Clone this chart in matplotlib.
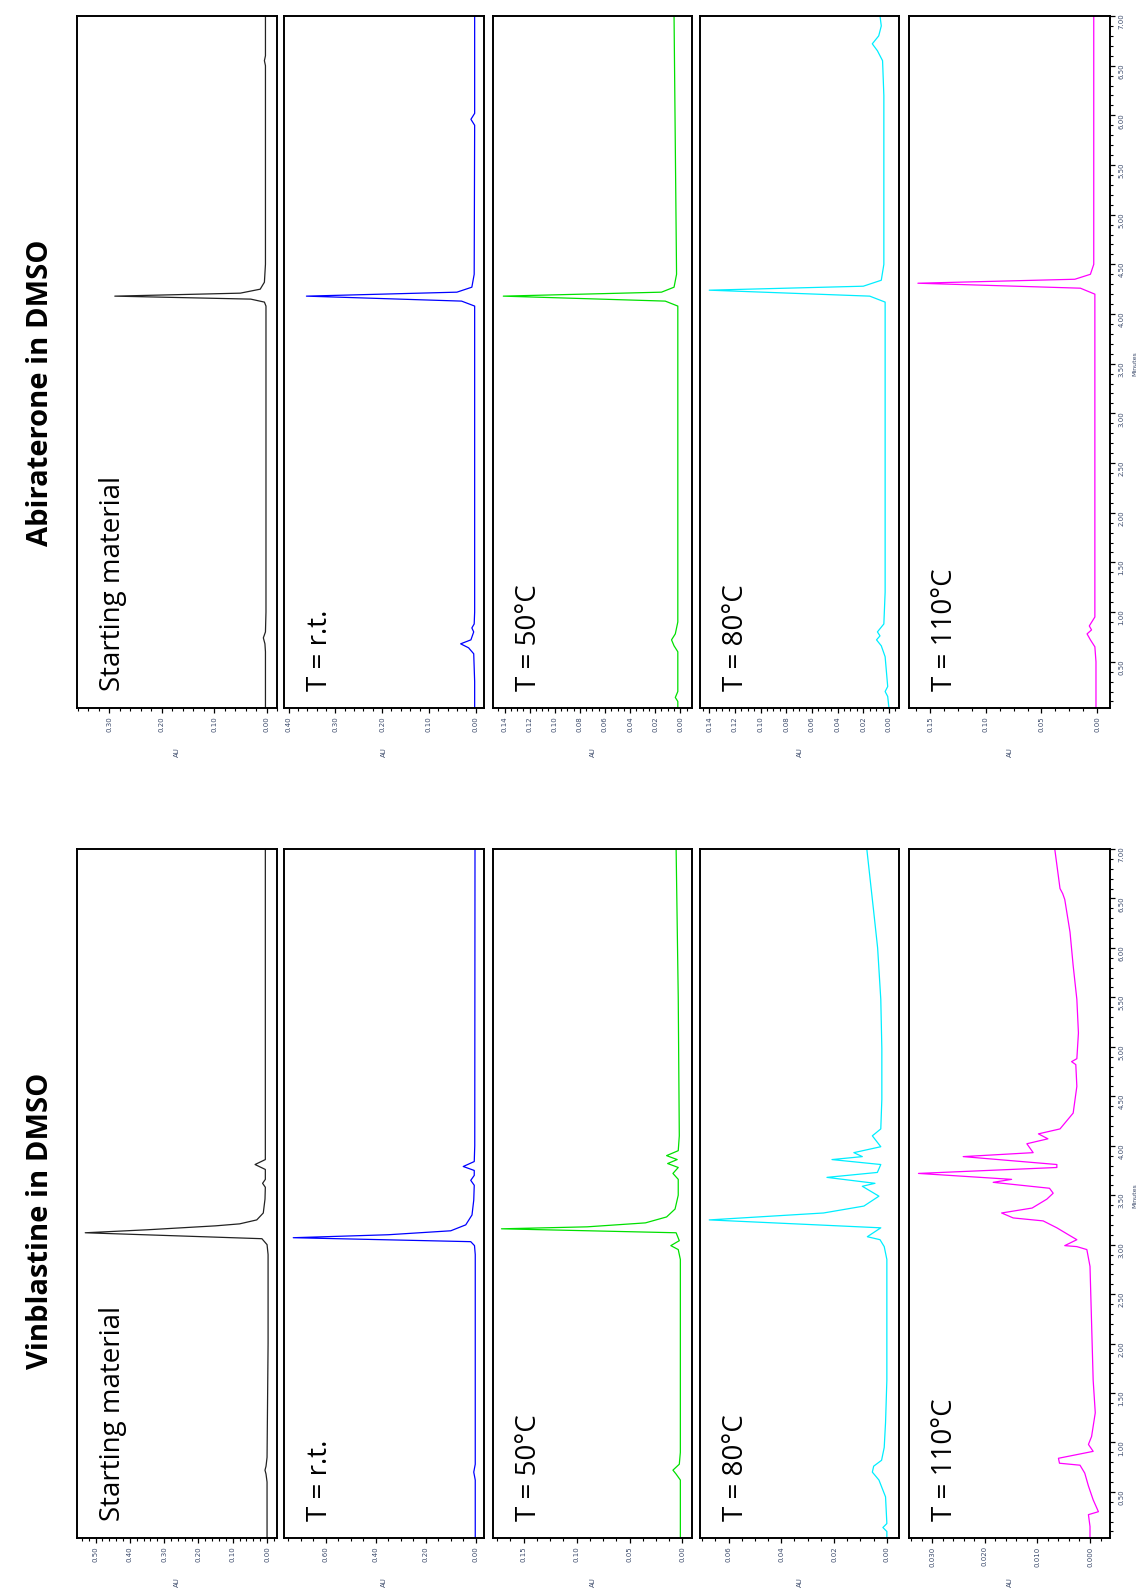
import matplotlib
matplotlib.use("Agg")
import matplotlib.pyplot as plt
from matplotlib.ticker import MultipleLocator

# ---- traces: retention time (min) / absorbance (AU) ----
# Vinblastine in DMSO
vin_sm_t = [0.03, 0.60, 0.68, 0.72, 0.76, 0.85, 2.00, 2.90, 3.00, 3.06, 3.12, 3.15, 3.19, 3.21,
            3.25, 3.32, 3.46, 3.58, 3.62, 3.66, 3.76, 3.81, 3.86, 4.00, 5.00, 7.00]
vin_sm_au = [0.000, 0.000, 0.003, 0.006, 0.003, 0.000, -0.003, -0.003, 0.000, 0.015, 0.53, 0.35,
             0.15, 0.08, 0.03, 0.011, 0.006, 0.005, 0.013, 0.005, 0.005, 0.035, 0.005, 0.005,
             0.005, 0.005]

vin_rt_t = [0.03, 0.62, 0.70, 0.78, 2.90, 2.99, 3.03, 3.07, 3.10, 3.14, 3.20, 3.30, 3.45, 3.60,
            3.65, 3.70, 3.75, 3.79, 3.84, 4.00, 7.00]
vin_rt_au = [0.002, 0.002, 0.008, 0.002, 0.002, 0.005, 0.02, 0.73, 0.35, 0.10, 0.04, 0.015,
             0.008, 0.006, 0.02, 0.006, 0.006, 0.05, 0.006, 0.004, 0.003]

vin_50_t = [0.03, 0.62, 0.68, 0.72, 0.78, 0.90, 2.85, 2.95, 2.99, 3.04, 3.12, 3.16, 3.18, 3.22,
            3.28, 3.36, 3.50, 3.66, 3.72, 3.78, 3.82, 3.86, 3.90, 3.95, 4.10, 5.50, 7.00]
vin_50_au = [0.002, 0.002, 0.006, 0.009, 0.003, 0.002, 0.002, 0.004, 0.011, 0.003, 0.006, 0.171,
             0.09, 0.035, 0.015, 0.007, 0.004, 0.004, 0.009, 0.004, 0.014, 0.005, 0.015, 0.004,
             0.003, 0.004, 0.006]

vin_80_t = [0.03, 0.10, 0.14, 0.18, 0.45, 0.62, 0.70, 0.76, 0.82, 0.95, 1.20, 1.63, 2.85, 2.98,
            3.05, 3.08, 3.17, 3.25, 3.32, 3.39, 3.49, 3.59, 3.62, 3.68, 3.73, 3.81, 3.86, 3.89,
            3.93, 3.99, 4.10, 4.17, 4.47, 4.98, 5.48, 6.00, 6.37, 7.00]
vin_80_au = [0.000, 0.000, 0.0015, 0.000, 0.0005, 0.003, 0.0055, 0.005, 0.002, 0.001, 0.0005,
             0.000, 0.000, 0.001, 0.0026, 0.0074, 0.0023, 0.0673, 0.024, 0.0087, 0.003, 0.0093,
             0.0045, 0.0227, 0.0036, 0.0023, 0.0208, 0.0093, 0.0125, 0.0023, 0.0055, 0.0023,
             0.0019, 0.0019, 0.0023, 0.0035, 0.005, 0.0076]

vin_110_t = [0.03, 0.15, 0.27, 0.30, 0.42, 0.56, 0.69, 0.77, 0.79, 0.84, 0.91, 0.98, 1.06, 1.30,
             1.63, 2.78, 2.95, 2.98, 2.99, 3.05, 3.10, 3.17, 3.24, 3.27, 3.32, 3.37, 3.46, 3.52,
             3.57, 3.63, 3.66, 3.72, 3.78, 3.81, 3.89, 3.93, 4.02, 4.07, 4.12, 4.17, 4.33, 4.60,
             4.82, 4.85, 4.88, 5.14, 5.48, 5.82, 6.16, 6.49, 6.55, 6.60, 7.00]
vin_110_au = [0.000, 0.000, 0.0003, -0.0016, -0.0006, 0.0003, 0.0010, 0.0019, 0.0058, 0.0060,
              -0.0006, 0.0003, -0.0003, -0.0010, -0.0006, 0.0000, 0.0006, 0.0025, 0.0048, 0.0025,
              0.0041, 0.0063, 0.0089, 0.0146, 0.0168, 0.0110, 0.0082, 0.0070, 0.0077, 0.0184,
              0.0149, 0.0326, 0.0063, 0.0063, 0.0241, 0.0108, 0.0120, 0.0080, 0.0098, 0.0057,
              0.0032, 0.0025, 0.0027, 0.0035, 0.0025, 0.0022, 0.0025, 0.0032, 0.0038, 0.0048,
              0.0052, 0.0057, 0.0067]

# Abiraterone in DMSO
abi_sm_t = [0.03, 0.60, 0.68, 0.74, 0.80, 1.00, 4.08, 4.12, 4.15, 4.18, 4.21, 4.25, 4.32, 4.50,
            6.50, 6.55, 6.60, 7.00]
abi_sm_au = [0.002, 0.002, 0.003, 0.006, 0.002, 0.001, 0.001, 0.004, 0.03, 0.289, 0.05, 0.012,
             0.004, 0.002, 0.002, 0.004, 0.002, 0.002]

abi_rt_t = [0.03, 0.30, 0.58, 0.64, 0.68, 0.72, 0.80, 0.84, 0.88, 1.00, 4.08, 4.13, 4.18, 4.22,
            4.27, 4.40, 5.90, 5.96, 6.02, 7.00]
abi_rt_au = [0.002, 0.002, 0.004, 0.015, 0.032, 0.010, 0.004, 0.008, 0.003, 0.002, 0.002, 0.03,
             0.362, 0.04, 0.008, 0.003, 0.002, 0.010, 0.002, 0.002]

abi_50_t = [0.03, 0.10, 0.14, 0.20, 0.60, 0.66, 0.72, 0.78, 0.90, 4.08, 4.13, 4.18, 4.22, 4.27,
            4.40, 7.00]
abi_50_au = [0.002, 0.002, 0.004, 0.002, 0.002, 0.005, 0.007, 0.004, 0.002, 0.002, 0.012, 0.141,
             0.015, 0.005, 0.003, 0.005]

abi_80_t = [0.03, 0.15, 0.20, 0.25, 0.55, 0.66, 0.72, 0.76, 0.80, 0.88, 1.20, 4.12, 4.18, 4.24,
            4.28, 4.34, 4.50, 6.20, 6.55, 6.65, 6.72, 6.80, 6.90, 7.00]
abi_80_au = [0.000, 0.001, 0.003, 0.001, 0.003, 0.006, 0.0097, 0.007, 0.009, 0.004, 0.003, 0.003,
             0.015, 0.140, 0.02, 0.006, 0.004, 0.004, 0.005, 0.009, 0.013, 0.008, 0.006, 0.007]

abi_110_t = [0.03, 0.50, 0.65, 0.72, 0.78, 0.82, 0.86, 0.95, 4.20, 4.26, 4.31, 4.35, 4.40, 4.50,
             7.00]
abi_110_au = [0.001, 0.001, 0.002, 0.006, 0.009, 0.005, 0.007, 0.002, 0.002, 0.015, 0.161, 0.02,
              0.006, 0.003, 0.003]

panel_labels = ["Starting material", "T = r.t.", "T = 50°C", "T = 80°C", "T = 110°C"]
titles = ["Vinblastine in DMSO", "Abiraterone in DMSO"]

# AU axis ticks per panel
vin_ticks = [[0.0, 0.1, 0.2, 0.3, 0.4, 0.5], [0.0, 0.2, 0.4, 0.6], [0.0, 0.05, 0.10, 0.15],
             [0.0, 0.02, 0.04, 0.06], [0.0, 0.01, 0.02, 0.03]]
vin_fmt = ["%.2f", "%.2f", "%.2f", "%.2f", "%.3f"]
vin_minor = [0.02, 0.05, 0.0125, 0.005, 0.002]
vin_xlim = [(0.554, -0.029), (0.767, -0.033), (0.179, -0.009), (0.0708, -0.0046), (0.0344, -0.0038)]

abi_ticks = [[0.0, 0.1, 0.2, 0.3], [0.0, 0.1, 0.2, 0.3, 0.4],
             [0.0, 0.02, 0.04, 0.06, 0.08, 0.10, 0.12, 0.14],
             [0.0, 0.02, 0.04, 0.06, 0.08, 0.10, 0.12, 0.14], [0.0, 0.05, 0.10, 0.15]]
abi_fmt = ["%.2f"] * 5
abi_minor = [0.02, 0.02, 0.005, 0.005, 0.0125]
abi_xlim = [(0.361, -0.020), (0.410, -0.018), (0.1492, -0.0093), (0.1472, -0.0078), (0.169, -0.0116)]

min_ticks = [0.50, 1.00, 1.50, 2.00, 2.50, 3.00, 3.50, 4.00, 4.50, 5.00, 5.50, 6.00, 6.50, 7.00]

colors = ["#222222", "#0000ff", "#00e000", "#00eeff", "#ff00ff"]

# ---- layout (pixels of the 1140 x 1589 canvas) ----
W, H = 1140, 1589
panel_x = [(77, 277), (284, 484), (493, 692), (700, 899), (909, 1110)]
T0, T1 = 0.034, 7.0
tick_col = "#3b4a6b"

fig = plt.figure(figsize=(W / 100, H / 100), dpi=100)

columns = [
    dict(y=(849, 1538), title_xy=(40.5, 1221),
         traces=[(vin_sm_t, vin_sm_au), (vin_rt_t, vin_rt_au), (vin_50_t, vin_50_au),
                 (vin_80_t, vin_80_au), (vin_110_t, vin_110_au)],
         ticks=vin_ticks, fmt=vin_fmt, minor=vin_minor, xlim=vin_xlim),
    dict(y=(16, 708), title_xy=(40.5, 393),
         traces=[(abi_sm_t, abi_sm_au), (abi_rt_t, abi_rt_au), (abi_50_t, abi_50_au),
                 (abi_80_t, abi_80_au), (abi_110_t, abi_110_au)],
         ticks=abi_ticks, fmt=abi_fmt, minor=abi_minor, xlim=abi_xlim),
]

for ci, col in enumerate(columns):
    y0, y1 = col["y"]
    fig.text(col["title_xy"][0] / W, 1 - col["title_xy"][1] / H, titles[ci], rotation=90,
             ha="center", va="center", fontsize=21, fontweight="bold", family="Open Sans")
    for i in range(5):
        x0, x1 = panel_x[i]
        ax = fig.add_axes([x0 / W, 1 - y1 / H, (x1 - x0) / W, (y1 - y0) / H])
        t, au = col["traces"][i]
        ax.plot(au, t, color=colors[i], lw=0.9)
        ax.set_xlim(col["xlim"][i])
        ax.set_ylim(T0, T1)
        for s in ax.spines.values():
            s.set_linewidth(1.4)
        ax.set_xticks(col["ticks"][i])
        ax.set_xticklabels([col["fmt"][i] % v for v in col["ticks"][i]])
        ax.xaxis.set_minor_locator(MultipleLocator(col["minor"][i]))
        ax.tick_params(axis="x", which="major", direction="out", length=3.5, width=0.9,
                       labelsize=5, labelrotation=90, pad=2.5, labelcolor=tick_col)
        ax.tick_params(axis="x", which="minor", direction="out", length=2.2, width=0.8)
        ax.text(0.5, -0.064, "AU", transform=ax.transAxes, rotation=90, ha="center",
                va="center", fontsize=5, color=tick_col)
        ax.text(0.215, 0.024, panel_labels[i], transform=ax.transAxes, rotation=90,
                rotation_mode="anchor", ha="left", va="baseline", fontsize=20,
                family="Open Sans")
        if i < 4:
            ax.set_yticks([])
        else:
            ax.yaxis.tick_right()
            ax.set_yticks(min_ticks)
            ax.set_yticklabels(["%.2f" % v for v in min_ticks])
            ax.yaxis.set_minor_locator(MultipleLocator(0.1))
            ax.tick_params(axis="y", which="major", direction="out", length=3.5, width=0.9,
                           labelsize=5, labelrotation=90, pad=2.5, labelcolor=tick_col)
            ax.tick_params(axis="y", which="minor", direction="out", length=2.2, width=0.8)
            ax.text(1.125, (3.5 - T0) / (T1 - T0), "Minutes", transform=ax.transAxes,
                    rotation=90, ha="center", va="center", fontsize=4.5, color=tick_col)

fig.savefig("out.png", dpi=100)
